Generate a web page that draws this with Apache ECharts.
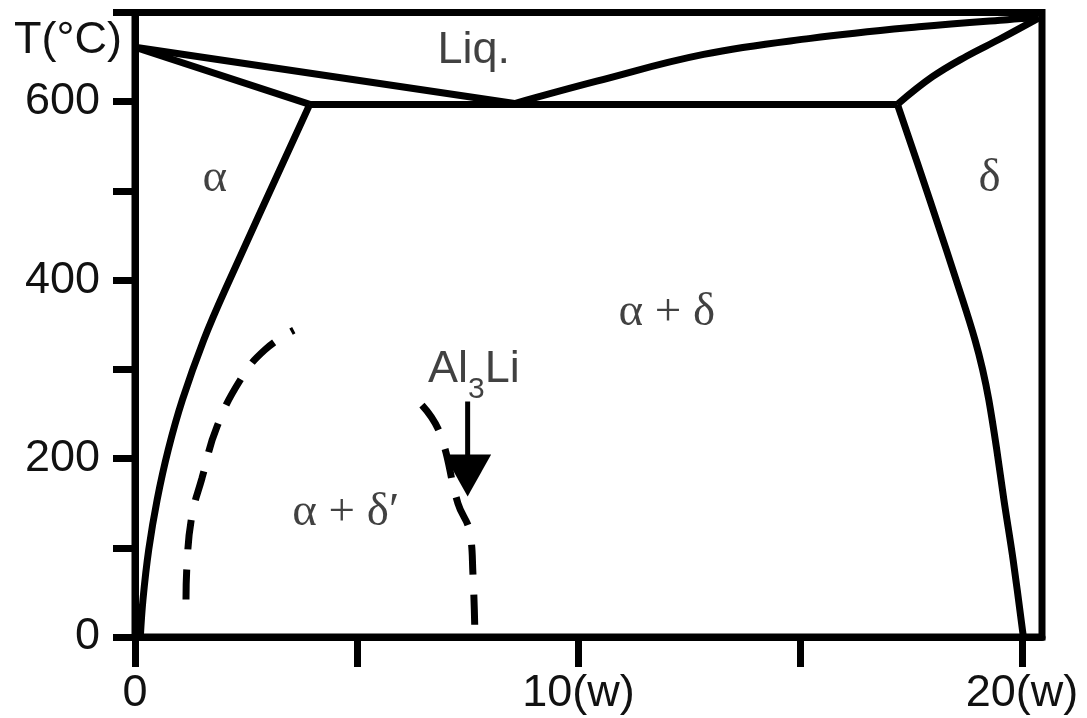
<!DOCTYPE html>
<html>
<head>
<meta charset="utf-8">
<script src="https://cdn.jsdelivr.net/npm/echarts@6/dist/echarts.min.js"></script>
<style>html,body{margin:0;padding:0;background:#fff;}#c{width:1087px;height:718px;}</style>
</head>
<body>
<div id="c"></div>
<script>
// ---- data (w = composition, T in °C) ----
var liquidusAl = [[0, 661], [8.56, 598]];
var liquidusRight = [[8.56, 598], [10.41, 623], [12.82, 653], [15.23, 671], [17.67, 684], [19.67, 692], [20.38, 694]];
var solidusAl = [[0, 661], [3.94, 597]];
var eutectic = [[3.94, 597], [17.19, 597]];
var deltaUpper = [[17.19, 597], [17.98, 628], [18.75, 651], [19.49, 670], [20.38, 694]];
var deltaSolvus = [[17.19, 597], [17.92, 490], [18.66, 378], [18.94, 333], [19.11, 300], [19.25, 266], [19.43, 210], [19.59, 154], [19.80, 86], [20.03, 0]];
var alphaSolvus = [[3.94, 597], [2.03, 389], [1.55, 333], [1.07, 266], [0.75, 210], [0.50, 154], [0.31, 98], [0.18, 42], [0.12, 0]];
var deltaPrimeSolvus = [[1.15, 42], [1.17, 79], [1.28, 135], [1.51, 178], [1.85, 236], [2.41, 291], [2.93, 322], [3.58, 344]];
var al3liBoundary = [[6.47, 260], [6.87, 229], [7.28, 150], [7.55, 117], [7.62, 70], [7.66, 12]];
var arrowStart = [7.5, 264];
var arrowHead = [7.5, 181];

var xTickValues = [0, 5, 10, 15, 20];
var xLabelValues = [0, 10, 20];
var xLabelTexts = ['0', '10(w)', '20(w)'];
var yTickValues = [0, 100, 200, 300, 400, 500, 600, 700];
var yLabelValues = [0, 200, 400, 600];
var yLabelTexts = ['0', '200', '400', '600'];

var liqName = 'Liq.';
var liqAnchor = [7.64, 657];
var greekNames = ['α', 'δ', 'α + δ', 'α + δ′'];
var greekAnchors = [[1.80, 514], [19.27, 514], [11.99, 364], [4.75, 139]];
var al3liAnchor = [7.64, 300];

// ---- chart ----
var chart = echarts.init(document.getElementById('c'), null, {renderer: 'canvas'});
var sans = 'Liberation Sans, Arial, sans-serif';
var serif = 'Liberation Serif, Times New Roman, serif';

function solid(data, smooth) {
  return {type: 'line', data: data, showSymbol: false, smooth: smooth || false, silent: true,
    lineStyle: {color: '#000', width: 7, join: 'miter'}, animation: false, z: 3};
}
function dashed(data) {
  return {type: 'line', data: data, showSymbol: false, smooth: 0.45, silent: true,
    lineStyle: {color: '#000', width: 7, type: [30, 20], cap: 'butt'}, animation: false, z: 3};
}

var greekData = greekNames.map(function (n, i) { return {name: n, value: greekAnchors[i]}; });

chart.setOption({
  animation: false,
  backgroundColor: '#fff',
  grid: {left: 135, top: 12.5, right: 45, bottom: 81, show: true, borderColor: '#000', borderWidth: 7},
  xAxis: {
    type: 'value', min: 0, max: 20.45, interval: 5,
    axisLine: {show: true, onZero: false, lineStyle: {color: '#000', width: 7}},
    axisTick: {show: true, length: 30, customValues: xTickValues, lineStyle: {color: '#000', width: 7}},
    axisLabel: {customValues: xLabelValues, margin: 34, color: '#111', fontSize: 45, fontFamily: sans,
      formatter: function (v) { var i = xLabelValues.indexOf(v); return i >= 0 ? xLabelTexts[i] : ''; }},
    splitLine: {show: false}
  },
  yAxis: {
    type: 'value', min: 0, max: 700, interval: 100,
    name: 'T(°C)', nameLocation: 'end', nameGap: -28,
    nameTextStyle: {color: '#111', fontSize: 45, fontFamily: sans, align: 'right', verticalAlign: 'middle', padding: [0, 13, 0, 0]},
    axisLine: {show: true, onZero: false, lineStyle: {color: '#000', width: 7}},
    axisTick: {show: true, length: 22, customValues: yTickValues, lineStyle: {color: '#000', width: 7}},
    axisLabel: {customValues: yLabelValues, margin: 35, color: '#111', fontSize: 45, fontFamily: sans,
      formatter: function (v) { var i = yLabelValues.indexOf(v); return i >= 0 ? yLabelTexts[i] : ''; }},
    splitLine: {show: false}
  },
  series: [
    solid(liquidusAl),
    solid(liquidusRight, 0.4),
    solid(solidusAl),
    solid(eutectic),
    solid(deltaUpper, 0.4),
    solid(deltaSolvus, 0.35),
    solid(alphaSolvus, 0.35),
    dashed(deltaPrimeSolvus),
    dashed(al3liBoundary),
    {
      type: 'line', silent: true, animation: false, z: 4,
      lineStyle: {color: '#000', width: 5},
      itemStyle: {color: '#000'},
      showSymbol: true,
      data: [
        {value: arrowStart, symbol: 'none'},
        {value: arrowHead, symbol: 'triangle', symbolSize: [47, 42], symbolRotate: 180}
      ]
    },
    {
      type: 'scatter', silent: true, animation: false, z: 5,
      symbolSize: 1, itemStyle: {color: 'rgba(0,0,0,0)'},
      data: greekData,
      label: {show: true, position: 'inside', formatter: '{b}', color: '#111',
        fontFamily: serif, fontSize: 47},
      labelLayout: {hideOverlap: false}
    },
    {
      type: 'scatter', silent: true, animation: false, z: 5,
      symbolSize: 1, itemStyle: {color: 'rgba(0,0,0,0)'},
      data: [{name: liqName, value: liqAnchor}],
      label: {show: true, position: 'inside', formatter: '{b}', color: '#111',
        fontFamily: sans, fontSize: 45}
    },
    {
      type: 'scatter', silent: true, animation: false, z: 5,
      symbolSize: 1, itemStyle: {color: 'rgba(0,0,0,0)'},
      data: [{name: 'Al3Li', value: al3liAnchor}],
      label: {show: true, position: 'inside', color: '#111',
        formatter: '{a|Al}{s|3}{a|Li}',
        rich: {
          a: {fontFamily: sans, fontSize: 45, color: '#111', lineHeight: 70},
          s: {fontFamily: sans, fontSize: 30, color: '#111', lineHeight: 30, verticalAlign: 'bottom'}
        }}
    }
  ]
});
</script>
</body>
</html>
